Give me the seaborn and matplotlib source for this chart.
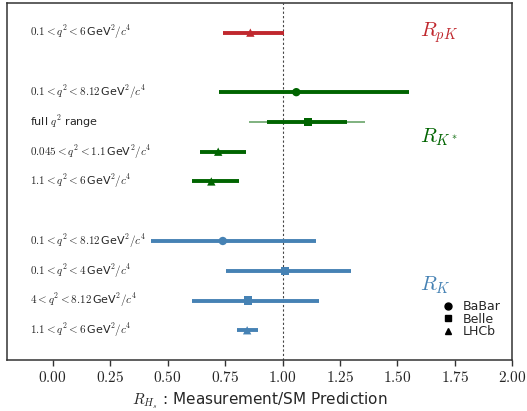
import numpy as np
import pandas as pd
import matplotlib
matplotlib.use("Agg")
import matplotlib.pyplot as plt
from matplotlib.lines import Line2D
from matplotlib.ticker import FuncFormatter
import seaborn as sns

# ---- data ----
row_labels = [
    r"$0.1 < q^2 < 6\,$GeV$^2/c^4$",
    r"$0.1 < q^2 < 8.12\,$GeV$^2/c^4$",
    r"full $q^2$ range",
    r"$0.045 < q^2 < 1.1\,$GeV$^2/c^4$",
    r"$1.1 < q^2 < 6\,$GeV$^2/c^4$",
    r"$0.1 < q^2 < 8.12\,$GeV$^2/c^4$",
    r"$0.1 < q^2 < 4\,$GeV$^2/c^4$",
    r"$4 < q^2 < 8.12\,$GeV$^2/c^4$",
    r"$1.1 < q^2 < 6\,$GeV$^2/c^4$",
]
row_pos = [0, 2, 3, 4, 5, 7, 8, 9, 10]
groups = ["RpK", "RKs", "RKs", "RKs", "RKs", "RK", "RK", "RK", "RK"]
experiments = ["LHCb", "BaBar", "Belle", "LHCb", "LHCb", "BaBar", "Belle", "Belle", "LHCb"]
central = [0.86, 1.06, 1.11, 0.72, 0.69, 0.74, 1.01, 0.85, 0.846]
stat_lo = [0.74, 0.724, 0.933, 0.639, 0.606, 0.428, 0.755, 0.606, 0.802]
stat_hi = [1.005, 1.549, 1.282, 0.841, 0.809, 1.147, 1.297, 1.159, 0.894]
tot_lo = [0.74, 0.724, 0.856, 0.639, 0.606, 0.428, 0.755, 0.606, 0.802]
tot_hi = [1.005, 1.549, 1.358, 0.841, 0.809, 1.147, 1.297, 1.159, 0.894]

group_names = {"RpK": r"$R_{pK}$", "RKs": r"$R_{K^*}$", "RK": r"$R_K$"}
group_label_y = {"RpK": 0.0, "RKs": 3.5, "RK": 8.5}
palette = {"RpK": "#c0282e", "RKs": "#006400", "RK": "#4682b4"}
markers = {"BaBar": "o", "Belle": "s", "LHCb": "^"}

df = pd.DataFrame(dict(label=row_labels, y=row_pos, group=groups, exp=experiments,
                       x=central, slo=stat_lo, shi=stat_hi, tlo=tot_lo, thi=tot_hi))

sns.set_style("ticks")
plt.rcParams["mathtext.fontset"] = "cm"
plt.rcParams["font.family"] = ["DejaVu Sans"]

fig = plt.figure(figsize=(5.27, 4.11), dpi=100)
ax = fig.add_axes([0.013, 0.124, 0.959, 0.869])

ax.axvline(1.0, color="#444444", ls=(0, (2, 2)), lw=0.8, zorder=1)

for _, r in df.iterrows():
    c = palette[r.group]
    ax.hlines(r.y, r.tlo, r.thi, color=c, lw=1.4, alpha=0.5, zorder=2)
    ax.hlines(r.y, r.slo, r.shi, color=c, lw=2.8, zorder=3)

sns.scatterplot(data=df, x="x", y="y", hue="group", style="exp", palette=palette,
                markers=markers, s=36, edgecolor="none", legend=False, ax=ax, zorder=4)

for _, r in df.iterrows():
    ax.text(-0.1, r.y, r.label, fontsize=8, ha="left", va="center")

for g, name in group_names.items():
    ax.text(1.6, group_label_y[g], name, fontsize=15, color=palette[g], ha="left", va="center")

ax.set_xlim(-0.2, 2.0)
ax.set_ylim(11, -1)
ax.set_yticks([])
ax.set_xticks(np.arange(0, 2.01, 0.25))
ax.xaxis.set_major_formatter(FuncFormatter(lambda v, p: f"${v:.2f}$"))
ax.tick_params(axis="x", labelsize=11, length=4, width=1, color="#333333")
ax.set_xlabel(r"$R_{H_s}$ : Measurement/SM Prediction", fontsize=11)
ax.set_ylabel("")
for s in ax.spines.values():
    s.set_color("#333333")
    s.set_linewidth(1.1)

handles = [Line2D([], [], marker=markers[e], color="black", ls="none", markersize=5)
           for e in ["BaBar", "Belle", "LHCb"]]
ax.legend(handles, ["BaBar", "Belle", "LHCb"], loc="lower right", frameon=False,
          fontsize=9, handletextpad=0.2, labelspacing=-0.05, borderaxespad=0.5,
          bbox_to_anchor=(1.0, 0.03))

fig.savefig("out.png", dpi=100)
